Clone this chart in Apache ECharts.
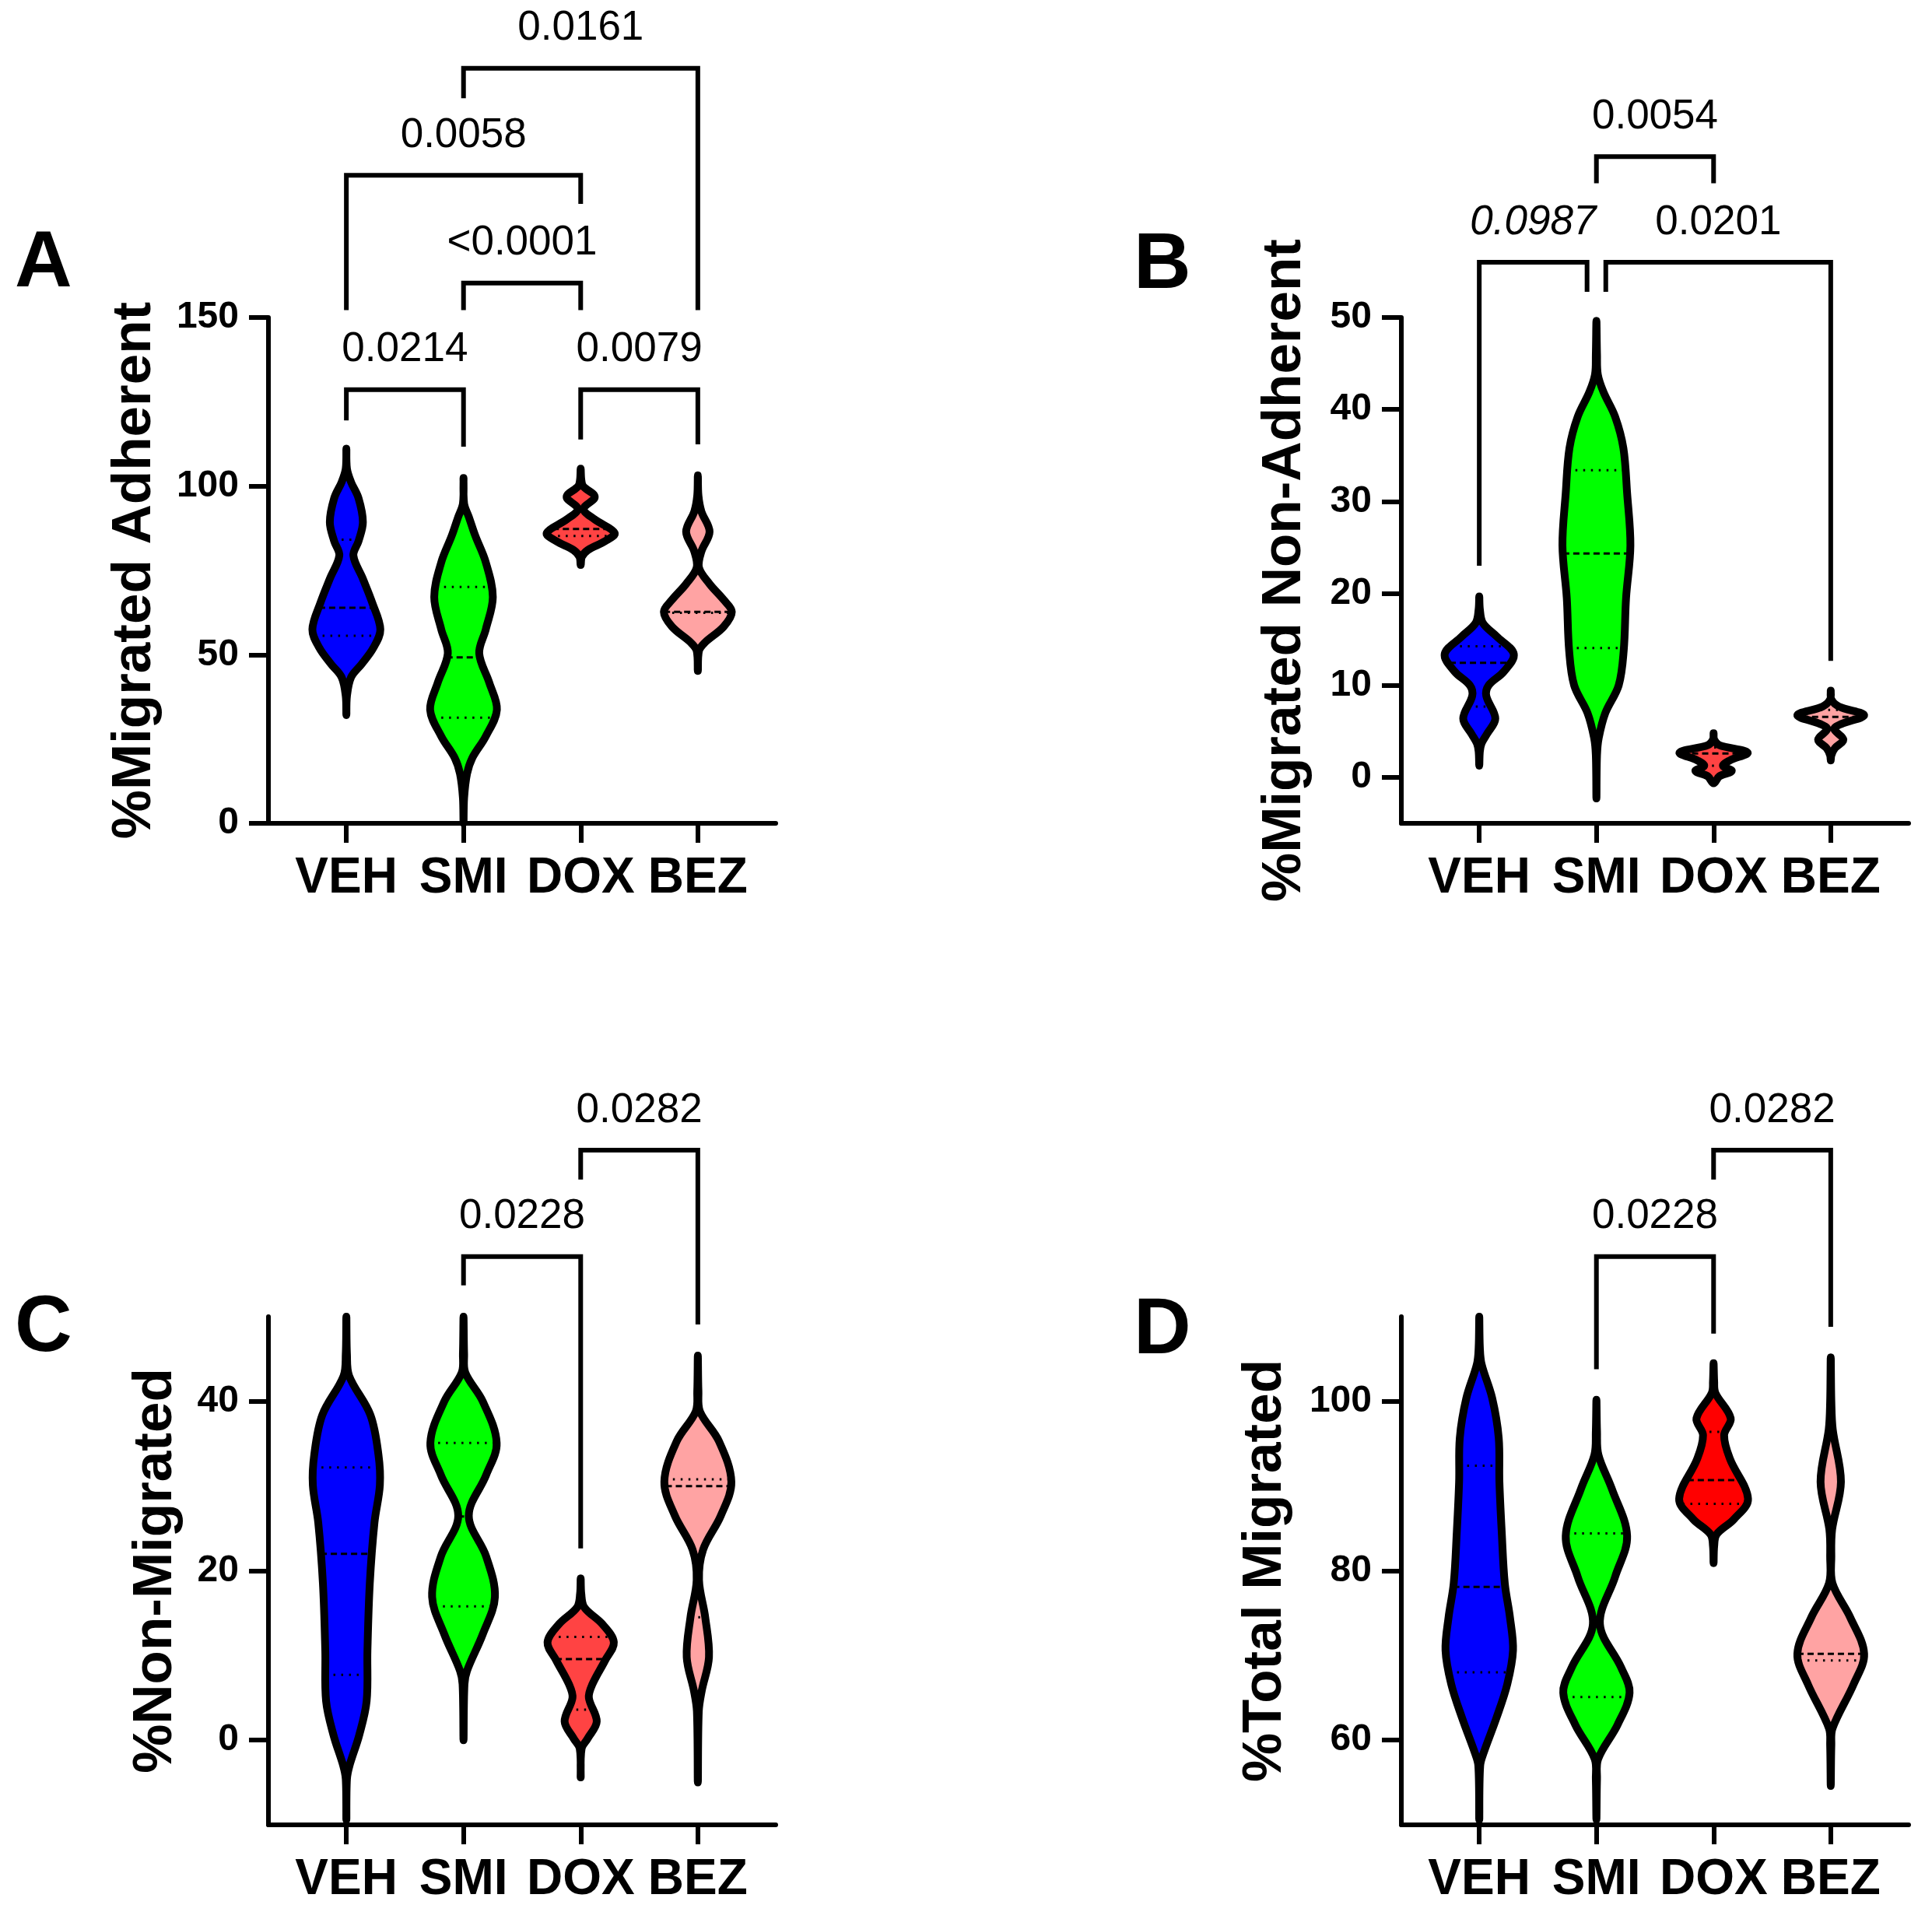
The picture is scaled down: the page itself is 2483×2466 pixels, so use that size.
<!DOCTYPE html>
<html>
<head>
<meta charset="utf-8">
<script src="https://cdn.jsdelivr.net/npm/echarts@6/dist/echarts.min.js"></script>
<style>
html,body{margin:0;padding:0;background:#ffffff;}
#chart{width:2483px;height:2466px;}
</style>
</head>
<body>
<div id="chart"></div>
<script>
// ---------------- DATA ----------------
const categories = ['VEH', 'SMI', 'DOX', 'BEZ'];

// Violin outlines: [value, half-width in category units], top to bottom
// Panel A: %Migrated Adherent
const aVEH = [[111.1,0],[105.2,0.005],[101.2,0.04],[96.4,0.104],[89.3,0.141],[83.7,0.104],[79.4,0.06],[72.6,0.14],[65.5,0.22],[57.5,0.29],[52,0.23],[47.2,0.13],[43.3,0.04],[37.7,0.005],[32.1,0]];
const aSMI = [[102.4,0],[94.8,0.005],[90.9,0.045],[85.3,0.10],[77.4,0.19],[67.1,0.25],[57.5,0.19],[50.4,0.134],[41.7,0.22],[33.7,0.285],[25.8,0.19],[19.4,0.075],[14.7,0.03],[7.5,0.005],[0,0]];
const aDOX = [[105.2,0],[102,0.005],[100,0.02],[96.8,0.12],[93.25,0.025],[90.1,0.12],[86.1,0.29],[83.7,0.21],[81,0.06],[79,0.01],[76.6,0]];
const aBEZ = [[103.2,0],[97.2,0.005],[92.5,0.03],[86.5,0.1],[80.6,0.03],[75.8,0.01],[71,0.1],[66.3,0.22],[62.7,0.29],[58.3,0.22],[53.6,0.06],[51.2,0.01],[45.2,0]];
const aMedian = [63.9, 49.2, 87.3, 62.7];
const aQ1 = [55.6, 31.3, 85.2, 62.4];
const aQ3 = [84.1, 70.1, 94.4, 78.0];
const aTicks = [0, 50, 100, 150];
// brackets: [fromGroup, toGroup, barValue, fromLegEnd, toLegEnd]
const aBrackets = [[0,1,128.6,119.5,111.7],[2,3,128.6,113.8,112.4],[1,2,160.2,152.2,152.2],[0,2,192.2,152.2,183.7],[1,3,223.9,215.0,152.2]];
const aBracketLabels = ['0.0214', '0.0079', '<0.0001', '0.0058', '0.0161'];

// Panel B: %Migrated Non-Adherent
const bVEH = [[19.67,0],[18.3,0.005],[16.8,0.03],[15.3,0.15],[13.4,0.295],[11.5,0.21],[10,0.08],[8.85,0.06],[6.4,0.137],[4.7,0.065],[3.7,0.02],[2.8,0.005],[1.26,0]];
const bSMI = [[49.65,0],[46,0.005],[43.8,0.012],[41.9,0.06],[39.2,0.16],[35.8,0.23],[30.9,0.262],[25.2,0.29],[19.5,0.253],[13.8,0.233],[10,0.19],[7,0.076],[4.3,0.02],[2.4,0.005],[-2.3,0]];
const bDOX = [[4.79,0],[4.1,0.005],[3.5,0.05],[2.7,0.29],[1.83,0.137],[1.26,0.08],[0.69,0.155],[0.12,0.05],[-0.64,0]];
const bBEZ = [[9.42,0],[8.47,0.005],[7.7,0.07],[6.76,0.285],[5.8,0.09],[5.25,0.03],[4.1,0.108],[3.16,0.035],[2.4,0.005],[1.83,0]];
const bMedian = [12.46, 24.34, 2.59, 6.57];
const bQ1 = [7.7, 14.05, 1.26, 5.4];
const bQ3 = [14.24, 33.4, 3.24, 7.33];
const bTicks = [0, 10, 20, 30, 40, 50];
const bBrackets = [[0,1,56,23.0,52.8],[1,3,56,52.8,12.66],[1,2,67.5,64.6,64.6]];
const bBracketLabels = ['0.0987', '0.0201', '0.0054'];

// Panel C: %Non-Migrated
const cVEH = [[50,0],[45.6,0.005],[43,0.024],[38.4,0.205],[33.7,0.274],[30.1,0.286],[25.7,0.24],[18.5,0.2],[10.6,0.18],[4.6,0.173],[0.6,0.11],[-3,0.027],[-4.6,0.005],[-9.4,0]];
const cSMI = [[50,0],[45.6,0.005],[43.4,0.015],[40,0.164],[35.1,0.283],[31.3,0.193],[26.5,0.045],[21.7,0.193],[16.9,0.268],[12.5,0.164],[8.2,0.03],[6.6,0.008],[0,0]];
const cDOX = [[19.1,0],[17.3,0.005],[15.7,0.03],[13.7,0.185],[11.55,0.283],[9.4,0.208],[6.6,0.1],[5,0.07],[2.2,0.137],[0.2,0.06],[-1,0.008],[-4.4,0]];
const cBEZ = [[45.4,0],[41.2,0.005],[38.8,0.018],[35.3,0.18],[30.5,0.286],[26.5,0.196],[22.5,0.045],[18.9,0.01],[14.5,0.063],[9.8,0.095],[5.8,0.033],[3.4,0.008],[-5,0]];
const cMedian = [22.0, 26.4, 9.56, 30.0];
const cQ1 = [7.7, 15.8, 3.6, 14.5];
const cQ3 = [32.2, 35.1, 12.2, 30.8];
const cTicks = [0, 20, 40];
const cBrackets = [[1,2,57.1,53.7,22.65],[2,3,69.66,66.2,49.07]];
const cBracketLabels = ['0.0228', '0.0282'];

// Panel D: %Total Migrated
const dVEH = [[110,0],[106.4,0.005],[104.4,0.02],[100.4,0.11],[95.7,0.166],[90.5,0.172],[84.5,0.192],[78.5,0.218],[74.5,0.262],[70.6,0.288],[66.6,0.239],[62.6,0.146],[58.6,0.04],[57,0.008],[50.6,0]];
const dSMI = [[100.2,0],[96.5,0.005],[93.7,0.017],[89.7,0.131],[84.1,0.262],[79.3,0.16],[73.7,0.03],[68.6,0.21],[65.6,0.283],[61.8,0.18],[57.8,0.015],[55.4,0.005],[50.6,0]];
const dDOX = [[104.5,0],[102.4,0.005],[101,0.015],[98,0.146],[96,0.09],[93.2,0.14],[88.5,0.294],[86.1,0.175],[84.3,0.026],[82.9,0.005],[80.9,0]];
const dBEZ = [[105.2,0],[100,0.005],[96.7,0.017],[90.5,0.087],[84.9,0.012],[81.7,0.005],[78.5,0.015],[74.5,0.166],[70.2,0.285],[66.6,0.195],[61.4,0.015],[59.4,0.005],[54.6,0]];
const dMedian = [78.1, 73.8, 90.7, 70.2];
const dQ1 = [68.0, 65.1, 87.9, 69.4];
const dQ3 = [92.4, 84.4, 96.4, 85.7];
const dTicks = [60, 80, 100];
const dBrackets = [[1,2,117.1,103.8,108.0],[2,3,129.66,126.2,108.8]];
const dBracketLabels = ['0.0228', '0.0282'];

// ---------------- STYLE / LAYOUT ----------------
const FONT = '"Liberation Sans", Arial, Helvetica, sans-serif';
const colorsABC = ['#0000FF', '#00FF00', '#FF4343', '#FFA3A3'];
const colorsD = ['#0000FF', '#00FF00', '#FF0000', '#FFA3A3'];
const italicLabels = { B: [true, false, false] };
const legShift = { B: [[0, -0.08], [0.08, 0], [0, 0]] };

const panels = [
  { key:'A', grid:{left:345, top:408, width:652, height:650}, min:0, max:150, ticks:aTicks,
    title:'%Migrated Adherent', nameGap:136, violins:[aVEH,aSMI,aDOX,aBEZ], med:aMedian, q1:aQ1, q3:aQ3,
    brackets:aBrackets, labels:aBracketLabels, colors:colorsABC, letterX:19, letterY:340 },
  { key:'B', grid:{left:1801, top:408, width:652, height:650}, min:-5, max:50, ticks:bTicks,
    title:'%Migrated Non-Adherent', nameGap:114, violins:[bVEH,bSMI,bDOX,bBEZ], med:bMedian, q1:bQ1, q3:bQ3,
    brackets:bBrackets, labels:bBracketLabels, colors:colorsABC, letterX:1457, letterY:342 },
  { key:'C', grid:{left:345, top:1692, width:652, height:653}, min:-10, max:50, ticks:cTicks,
    title:'%Non-Migrated', nameGap:109, violins:[cVEH,cSMI,cDOX,cBEZ], med:cMedian, q1:cQ1, q3:cQ3,
    brackets:cBrackets, labels:cBracketLabels, colors:colorsABC, letterX:19, letterY:1708 },
  { key:'D', grid:{left:1801, top:1692, width:652, height:653}, min:50, max:110, ticks:dTicks,
    title:'%Total Migrated', nameGap:139, violins:[dVEH,dSMI,dDOX,dBEZ], med:dMedian, q1:dQ1, q3:dQ3,
    brackets:dBrackets, labels:dBracketLabels, colors:colorsD, letterX:1457, letterY:1711 }
];

function widthAt(prof, v) {
  for (let j = 0; j < prof.length - 1; j++) {
    const v1 = prof[j][0], w1 = prof[j][1], v2 = prof[j+1][0], w2 = prof[j+1][1];
    if (v <= v1 && v >= v2) {
      const t = (v1 - v) / (v1 - v2 || 1);
      return w1 + (w2 - w1) * t;
    }
  }
  return 0;
}

const grids = [], xAxes = [], yAxes = [], series = [], graphics = [];

panels.forEach((p, i) => {
  grids.push(Object.assign({ containLabel:false, outerBoundsMode:'none' }, p.grid));
  xAxes.push({
    type:'value', gridIndex:i, min:-0.665, max:3.665,
    axisLine:{ show:true, onZero:false, lineStyle:{ color:'#000', width:6 } },
    axisTick:{ show:true, inside:false, length:25, customValues:[0,1,2,3], lineStyle:{ color:'#000', width:6 } },
    axisLabel:{ show:true, customValues:[0,1,2,3], formatter:(v) => categories[Math.round(v)],
      color:'#000', fontSize:64, fontWeight:'bold', fontFamily:FONT, margin:39 },
    splitLine:{ show:false }
  });
  yAxes.push({
    type:'value', gridIndex:i, min:p.min, max:p.max,
    axisLine:{ show:true, onZero:false, lineStyle:{ color:'#000', width:6 } },
    axisTick:{ show:true, inside:false, length:25, customValues:p.ticks, lineStyle:{ color:'#000', width:6 } },
    axisLabel:{ show:true, customValues:p.ticks, color:'#000', fontSize:48, fontWeight:'bold', fontFamily:FONT, margin:38 },
    splitLine:{ show:false },
    name:p.title, nameLocation:'middle', nameGap:p.nameGap,
    nameTextStyle:{ color:'#000', fontSize:71, fontWeight:'bold', fontFamily:FONT }
  });

  // violins
  series.push({
    type:'custom', xAxisIndex:i, yAxisIndex:i, clip:false, silent:true,
    data:[0,1,2,3].map(k => [k, p.med[k]]),
    renderItem:(params, api) => {
      const k = params.dataIndex;
      const prof = p.violins[k];
      const right = prof.map(d => api.coord([k + d[1], d[0]]));
      const left = prof.slice(1, -1).reverse().map(d => api.coord([k - d[1], d[0]]));
      const children = [{
        type:'polygon', shape:{ points:right.concat(left), smooth:0.35 },
        style:{ fill:p.colors[k], stroke:'#000', lineWidth:10, lineJoin:'round' }
      }];
      const lines = [[p.med[k], [8, 5]], [p.q1[k], [2.5, 7.5]], [p.q3[k], [2.5, 7.5]]];
      lines.forEach(([v, dash]) => {
        const w = widthAt(prof, v);
        if (w <= 0.01) return;
        const a = api.coord([k - w, v]), b = api.coord([k + w, v]);
        children.push({ type:'line', shape:{ x1:a[0], y1:a[1], x2:b[0], y2:b[1] },
          style:{ stroke:'#000', lineWidth:3, lineDash:dash, lineCap:'butt' } });
      });
      return { type:'group', children };
    }
  });

  // significance brackets
  series.push({
    type:'custom', xAxisIndex:i, yAxisIndex:i, clip:false, silent:true,
    data:p.brackets.map(b => [(b[0] + b[1]) / 2, b[2]]),
    renderItem:(params, api) => {
      const j = params.dataIndex;
      const b = p.brackets[j];
      const sh = legShift[p.key] ? legShift[p.key][j] : [0, 0];
      const x1 = b[0] + sh[0], x2 = b[1] + sh[1];
      const pa = api.coord([x1, b[3]]), pb = api.coord([x1, b[2]]), pc = api.coord([x2, b[2]]), pd = api.coord([x2, b[4]]);
      const italic = italicLabels[p.key] && italicLabels[p.key][j];
      return { type:'group', children:[
        { type:'polyline', shape:{ points:[pa, pb, pc, pd] },
          style:{ stroke:'#000', lineWidth:6, fill:null, lineJoin:'miter', lineCap:'butt' } },
        { type:'text', x:(pb[0] + pc[0]) / 2, y:pb[1] - 51,
          style:{ text:p.labels[j], fill:'#000', font:(italic ? 'italic ' : '') + 'normal 53px ' + FONT,
            textAlign:'center', textVerticalAlign:'middle' } }
      ]};
    }
  });

  graphics.push({ type:'text', x:p.letterX, y:p.letterY,
    style:{ text:p.key, fill:'#000', font:'bold 102px ' + FONT, textAlign:'left', textVerticalAlign:'middle' } });
});

const chart = echarts.init(document.getElementById('chart'), null, { renderer:'canvas', width:2483, height:2466 });
chart.setOption({
  animation:false,
  backgroundColor:'#ffffff',
  textStyle:{ fontFamily:FONT },
  grid:grids, xAxis:xAxes, yAxis:yAxes, series, graphic:graphics
});
</script>
</body>
</html>
